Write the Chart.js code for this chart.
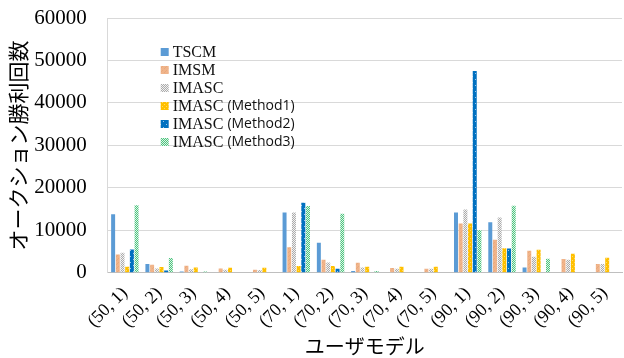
<!DOCTYPE html>
<html>
<head>
<meta charset="utf-8">
<script src="https://cdn.jsdelivr.net/npm/chart.js@4.4.1/dist/chart.umd.min.js"></script>
<style>
  html, body { margin: 0; padding: 0; background: #fff; }
  #wrap { width: 624px; height: 358px; position: relative; }
</style>
</head>
<body>
<div id="wrap"><canvas id="winsChart"></canvas></div>
<script>
    "use strict";

    var userModels = ['(50, 1)', '(50, 2)', '(50, 3)', '(50, 4)', '(50, 5)',
        '(70, 1)', '(70, 2)', '(70, 3)', '(70, 4)', '(70, 5)',
        '(90, 1)', '(90, 2)', '(90, 3)', '(90, 4)', '(90, 5)'];

    var tscm     = [13800, 2100, 300, 0, 0, 14200, 7100, 450, 0, 0, 14200, 11900, 1250, 0, 0];
    var imsm     = [4300, 1900, 1650, 1000, 700, 6000, 3050, 2350, 1150, 950, 11600, 7800, 5200, 3250, 2050];
    var imasc    = [4700, 1000, 850, 700, 650, 14200, 2450, 1250, 950, 950, 14900, 13000, 3800, 3050, 2100];
    var method1  = [1400, 1350, 1250, 1200, 1200, 1600, 1600, 1400, 1400, 1400, 11600, 5800, 5400, 4500, 3550];
    var method2  = [5500, 550, 0, 0, 0, 16500, 950, 0, 0, 0, 47500, 5700, 0, 0, 0];
    var method3  = [15900, 3500, 300, 0, 0, 15700, 13900, 450, 0, 0, 10100, 15800, 3300, 0, 0];

    var seriesNames = ['TSCM', 'IMSM', 'IMASC', 'IMASC', 'IMASC', 'IMASC'];
    var seriesSuffix = ['', '', '', '(Method1)', '(Method2)', '(Method3)'];

    // small tiled fills imitating the office-style hatch patterns
    function makePattern(size, bg, fg, cells) {
        var c = document.createElement('canvas');
        c.width = size; c.height = size;
        var g = c.getContext('2d');
        g.fillStyle = bg;
        g.fillRect(0, 0, size, size);
        g.fillStyle = fg;
        cells.forEach(function (p) { g.fillRect(p[0], p[1], 1, 1); });
        return g.createPattern(c, 'repeat');
    }

    var ctx = document.getElementById('winsChart').getContext('2d');

    var fills = [
        '#5B9BD5',
        makePattern(4, '#F0B48A', '#E9A97C', [[0, 0], [2, 2], [1, 3]]),
        makePattern(2, '#ABABAB', '#F2F2F2', [[0, 0], [1, 1]]),
        makePattern(4, '#FFC000', '#FFD966', [[0, 0], [2, 2]]),
        makePattern(6, '#0070C0', '#9DC3E6', [[1, 1], [4, 4]]),
        makePattern(2, '#4CC47E', '#DDF4E6', [[0, 0], [1, 1]])
    ];

    var seriesValues = [tscm, imsm, imasc, method1, method2, method3];

    var legendInside = {
        id: 'legendInside',
        afterDraw: function (chart) {
            var g = chart.ctx;
            var x = chart.chartArea.left + 53;
            var y = chart.chartArea.top + 34;
            g.save();
            g.textBaseline = 'middle';
            for (var i = 0; i < seriesNames.length; i++) {
                var yy = y + i * 18;
                g.fillStyle = fills[i];
                g.fillRect(x, yy - 4, 8, 8);
                g.fillStyle = '#111';
                g.font = '16px "Liberation Serif"';
                g.fillText(seriesNames[i], x + 12, yy + 1);
                if (seriesSuffix[i]) {
                    var w = g.measureText(seriesNames[i]).width;
                    g.font = '14px "Open Sans"';
                    g.fillText(seriesSuffix[i], x + 12 + w + 4, yy);
                }
            }
            g.restore();
        }
    };

    new Chart(ctx, {
        type: 'bar',
        data: {
            labels: userModels,
            datasets: seriesValues.map(function (vals, i) {
                return {
                    label: seriesNames[i] + (seriesSuffix[i] ? ' ' + seriesSuffix[i] : ''),
                    data: vals,
                    backgroundColor: fills[i],
                    borderWidth: 0,
                    barPercentage: 0.85,
                    categoryPercentage: 0.82
                };
            })
        },
        options: {
            responsive: true,
            maintainAspectRatio: false,
            animation: false,
            layout: { padding: { top: 18, right: 2, left: 5, bottom: 0 } },
            plugins: {
                legend: { display: false },
                tooltip: { enabled: false }
            },
            scales: {
                x: {
                    grid: { display: false },
                    border: { color: '#BFBFBF', width: 1 },
                    ticks: {
                        color: '#000',
                        font: { family: '"Liberation Serif"', size: 18 },
                        minRotation: 45,
                        maxRotation: 45,
                        autoSkip: false,
                        padding: 2
                    },
                    title: {
                        display: true,
                        text: 'ユーザモデル',
                        color: '#000',
                        font: { family: '"Noto Sans CJK JP"', size: 20 },
                        padding: { top: 0, bottom: 0 }
                    }
                },
                y: {
                    min: 0,
                    max: 60000,
                    grid: { color: '#D9D9D9', drawTicks: true, tickLength: 19, tickColor: 'rgba(0,0,0,0)' },
                    border: { color: '#D9D9D9' },
                    ticks: {
                        stepSize: 10000,
                        color: '#000',
                        font: { family: '"Liberation Serif"', size: 21 },
                        padding: 2,
                        callback: function (v) { return String(v); }
                    },
                    title: {
                        display: true,
                        text: 'オークション勝利回数',
                        color: '#000',
                        font: { family: '"Noto Sans CJK JP"', size: 21 },
                        padding: { top: 0, bottom: 2 }
                    }
                }
            }
        },
        plugins: [legendInside]
    });
</script>
</body>
</html>
